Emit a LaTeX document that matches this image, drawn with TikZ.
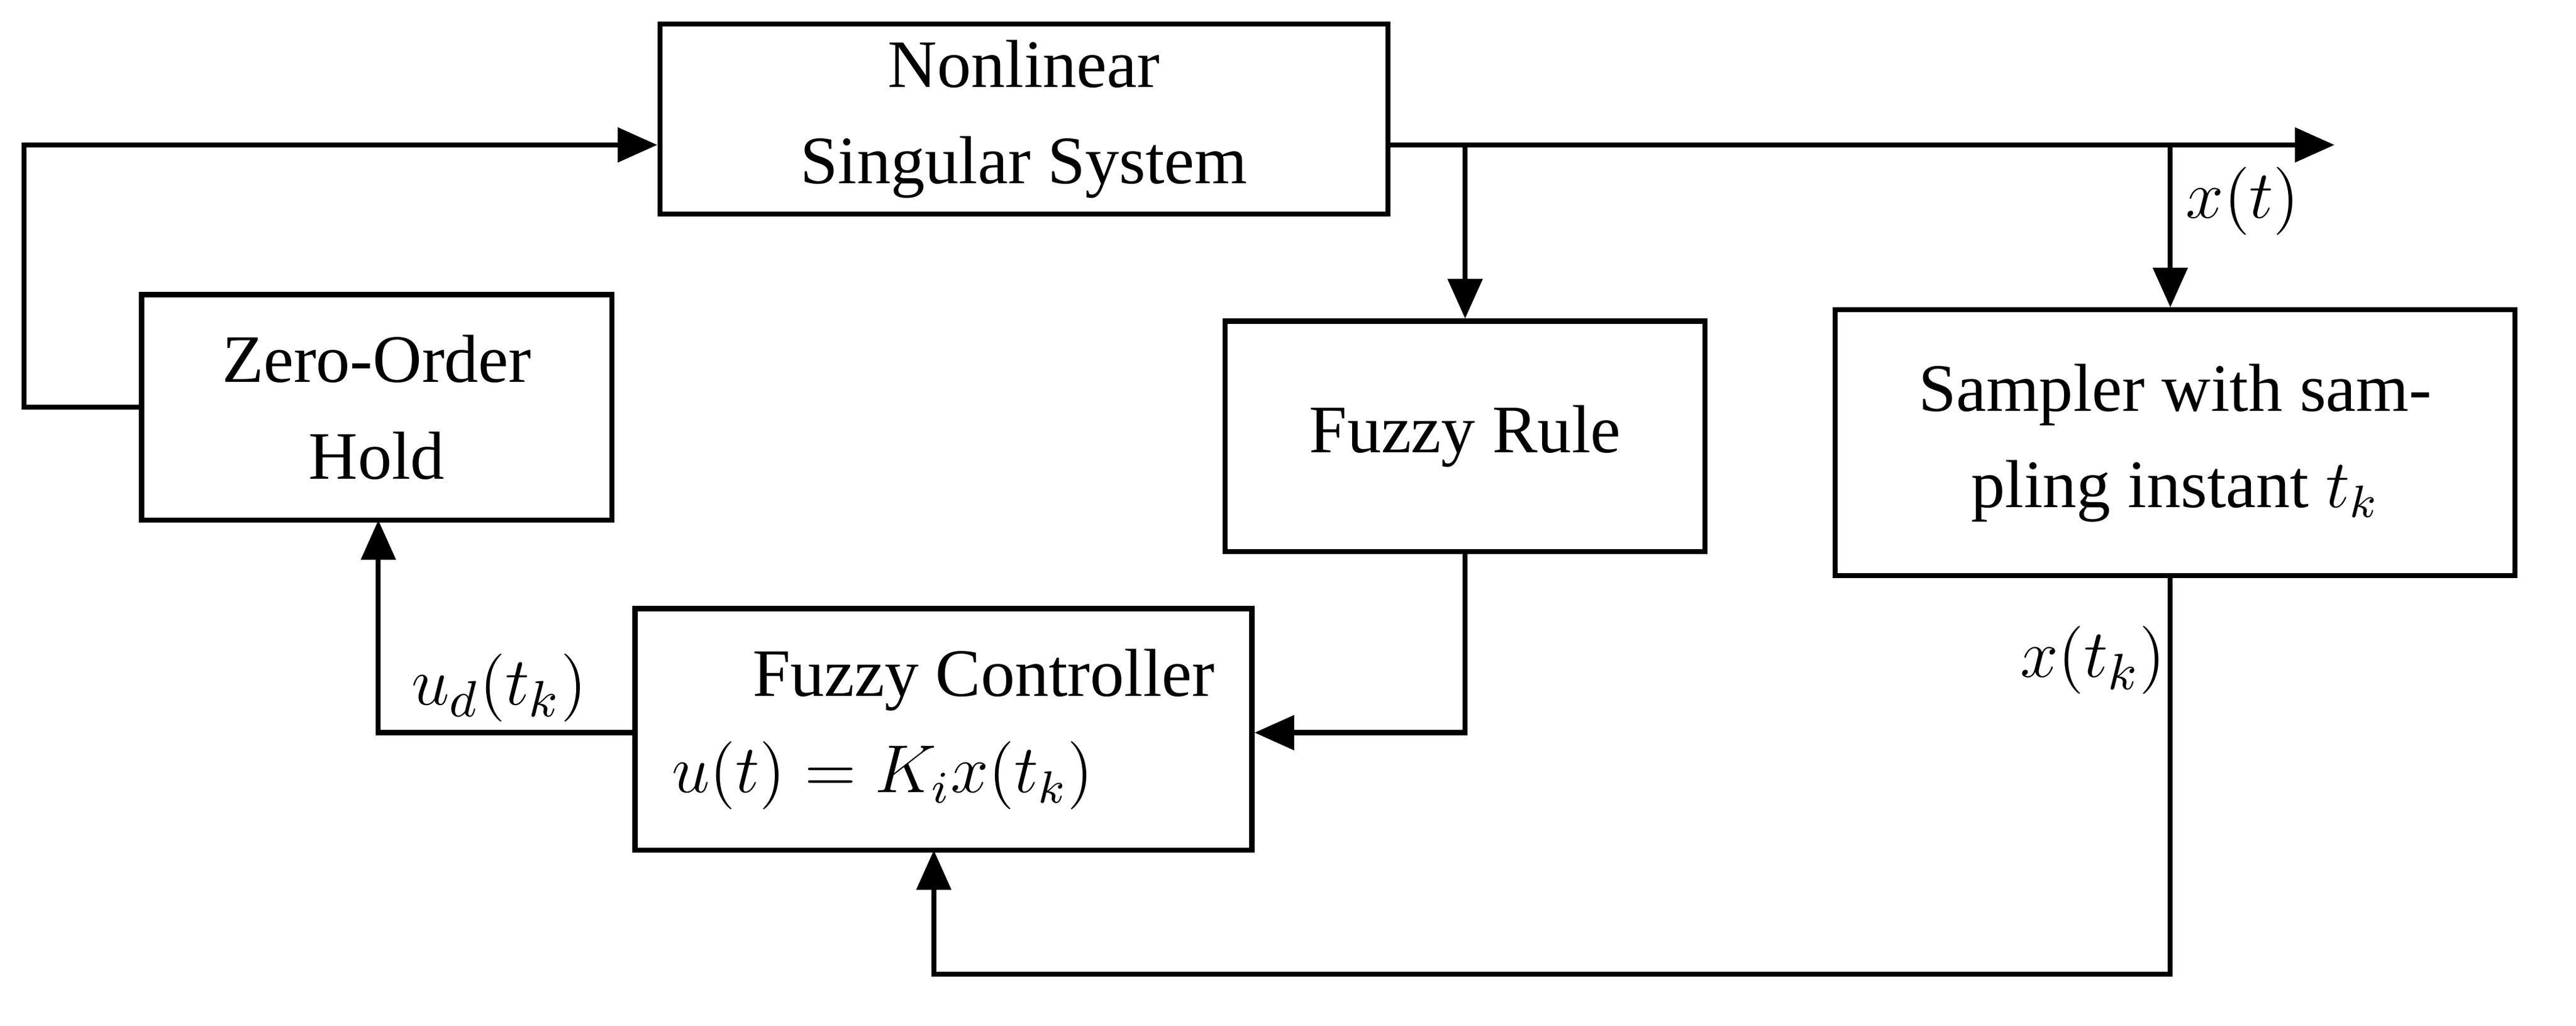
\documentclass[tikz,border=0pt]{standalone}
\usepackage{fontspec}
\setmainfont{Liberation Serif}
\usetikzlibrary{arrows.meta}
\begin{document}
\begin{tikzpicture}[x=0.01cm,y=-0.01cm,
  box/.style={draw,line width=0.9pt,inner sep=0pt,align=center,font=\fontsize{12}{17}\selectfont},
  ln/.style={line width=0.9pt},
  ar/.style={ln,-{Triangle[length=7pt,width=6pt]}},
  lab/.style={font=\fontsize{13}{16}\selectfont}]
\useasboundingbox (0,0) rectangle (1600,637);
\node[box,minimum width=4.52cm,minimum height=1.18cm] (ns) at (636,74) {Nonlinear\\Singular System};
\node[box,minimum width=2.92cm,minimum height=1.40cm] (zoh) at (234,253) {Zero-Order\\Hold};
\node[box,minimum width=2.98cm,minimum height=1.43cm] (fr) at (910,271) {Fuzzy Rule};
\node[box,minimum width=4.22cm,minimum height=1.65cm] (sm) at (1351,275) {Sampler with sam-\\pling instant $t_k$};
\node[box,minimum width=3.83cm,minimum height=1.50cm,align=left] (fc) at (586,453) {\hspace*{0.5cm}Fuzzy Controller\\$u(t)=K_i x(t_k)$};
\coordinate (out) at (1450,90);
\coordinate (b1) at (910,90);
\coordinate (b2) at (1348,90);
\draw[ar] (zoh.west) -- (15,253) -- (15,90) -- (ns.west |- 0,90);
\draw[ar] (ns.east |- 0,90) -- (out);
\draw[ar] (b1) -- (b1 |- fr.north);
\draw[ar] (b2) -- (b2 |- sm.north);
\draw[ar] (fr.south) -- (fr.south |- 0,455) -- (fc.east |- 0,455);
\draw[ar] (fc.west |- 0,455) -- (235,455) -- (235,323);
\draw[ar] (sm.south -| 1348,0) -- (1348,605) -- (580,605) -- (580,528);
\node[lab] (l1) at (1393,125) {$x(t)$};
\node[lab] (l2) at (310,427) {$u_d(t_k)$};
\node[lab] (l3) at (1300,410) {$x(t_k)$};
\end{tikzpicture}
\end{document}
